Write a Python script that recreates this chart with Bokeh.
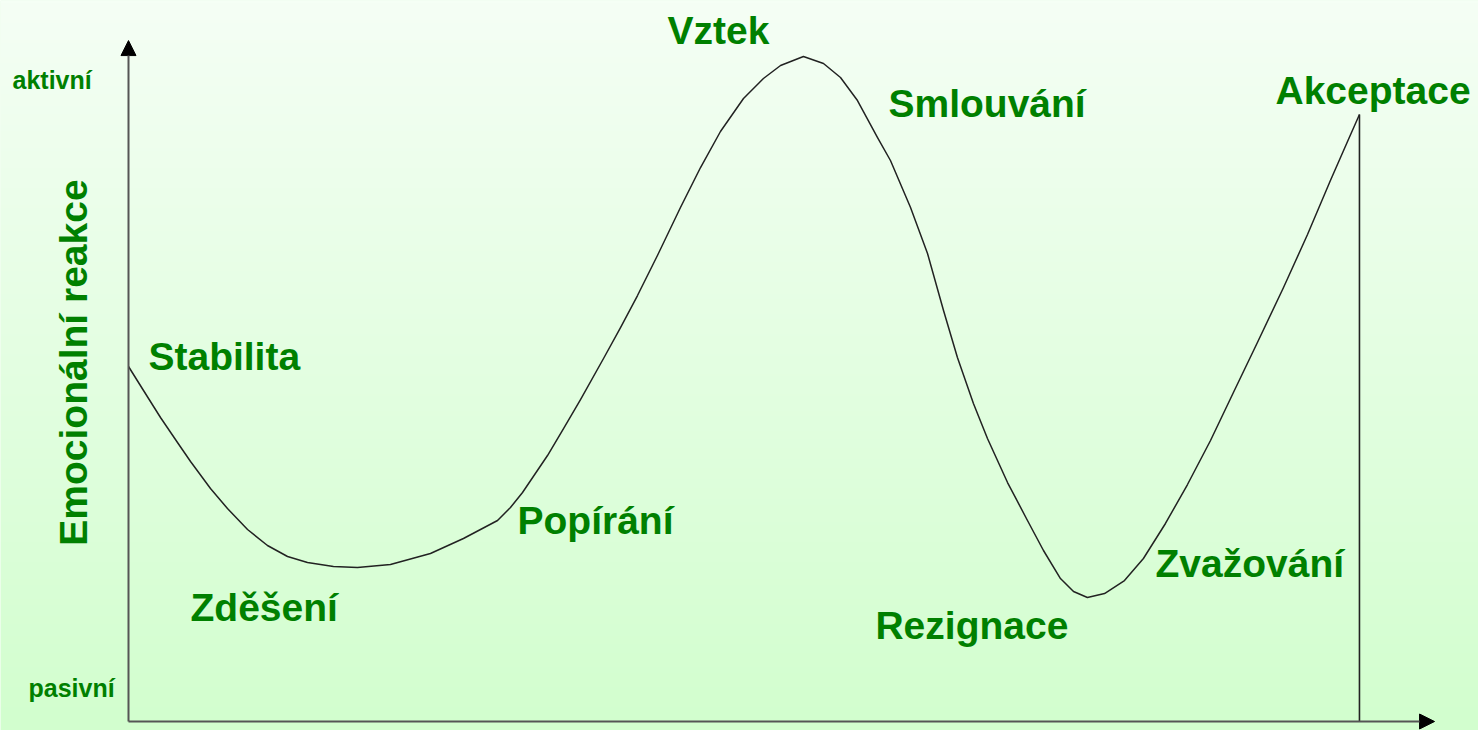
import numpy as np
from bokeh.plotting import figure
from bokeh.models import Range1d, Arrow, NormalHead, Label
from bokeh.embed import file_html
from bokeh.resources import INLINE

# ---- data (time 0..100, emotional reaction 0..100) ----
time = [0.00, 1.22, 2.60, 3.98, 5.04, 6.66, 8.04, 9.67, 11.29, 12.92, 14.54, 16.65,
        18.60, 21.28, 24.53, 27.21, 29.98, 31.03, 32.01, 34.04, 35.34, 36.72, 38.59,
        39.97, 41.35, 42.97, 44.84, 46.47, 48.09, 49.96, 51.58, 52.97, 54.83, 56.46,
        57.84, 59.22, 60.85, 61.90, 63.53, 64.91, 66.21, 67.34, 68.64, 69.78, 71.41,
        73.03, 74.33, 75.71, 76.77, 77.90, 79.29, 80.91, 82.45, 84.24, 86.03, 87.90,
        89.76, 91.71, 93.83, 95.78, 97.64, 99.03, 100.0]
emotion = [55.47, 51.72, 47.50, 43.59, 40.63, 36.41, 33.28, 30.00, 27.50, 25.78, 24.84,
           24.22, 24.06, 24.53, 26.25, 28.59, 31.41, 33.44, 35.78, 41.56, 45.78, 50.31,
           56.72, 61.56, 66.56, 72.81, 80.31, 86.56, 92.19, 97.34, 100.47, 102.50,
           103.91, 102.81, 100.63, 97.03, 91.25, 87.66, 80.31, 73.13, 64.22, 56.88,
           49.69, 44.22, 37.34, 31.41, 26.72, 22.34, 20.31, 19.38, 20.00, 22.03, 25.47,
           30.94, 37.03, 43.91, 51.41, 59.22, 67.81, 76.09, 84.53, 90.63, 94.84]

stages = ["Stabilita", "Zděšení", "Popírání", "Vztek", "Smlouvání",
          "Rezignace", "Zvažování", "Akceptace"]
y_title = "Emocionální reakce"
y_levels = ["aktivní", "pasivní"]

# ---- layout (not data) ----
stage_pos = [(1.62, 57.03), (5.04, 17.81), (31.60, 31.41), (43.79, 107.97),
             (61.74, 96.56), (60.68, 15.0), (83.43, 24.69), (93.18, 98.59)]
level_pos = [(-9.42, 100.16), (-8.12, 5.16)]

GREEN = "#008000"
FONT = "Liberation Sans"

W, H = 1478, 730
X0, X1 = -10.398, 109.67
Y0, Y1 = -1.406, 112.66
p = figure(width=W, height=H, output_backend="svg", toolbar_location=None,
           x_range=Range1d(X0, X1), y_range=Range1d(Y0, Y1),
           min_border=0, x_axis_type=None, y_axis_type=None)
p.outline_line_color = None
p.grid.visible = False
p.background_fill_color = "#e6fde4"
p.border_fill_color = "#e6fde4"

# vertical gradient background
n = 256
top = np.array([245, 255, 245])
bot = np.array([210, 254, 206])
t = np.linspace(0, 1, n)[:, None]
cols = (bot * (1 - t) + top * t).astype(np.uint32)  # row 0 = bottom
img = np.empty((n, 1), dtype=np.uint32)
view = img.view(dtype=np.uint8).reshape((n, 1, 4))
view[:, 0, 0] = cols[:, 0]
view[:, 0, 1] = cols[:, 1]
view[:, 0, 2] = cols[:, 2]
view[:, 0, 3] = 255
p.image_rgba(image=[img], x=X0, y=Y0, dw=X1 - X0, dh=Y1 - Y0)

# axes with arrows
p.add_layout(Arrow(end=NormalHead(size=15, fill_color="black", line_color="black"),
                   x_start=0, y_start=0, x_end=0, y_end=106.4,
                   line_color="#555555", line_width=2))
p.add_layout(Arrow(end=NormalHead(size=15, fill_color="black", line_color="black"),
                   x_start=0, y_start=0, x_end=106.1, y_end=0,
                   line_color="#555555", line_width=2))

# curve
p.line(time, emotion, line_color="#222222", line_width=1.5, line_join="round")
# vertical line at acceptance
p.segment(x0=[time[-1]], y0=[0], x1=[time[-1]], y1=[emotion[-1]],
          line_color="#222222", line_width=1.6)

for name, (x, y) in zip(stages, stage_pos):
    p.add_layout(Label(x=x, y=y, text=name, text_font=FONT, text_font_style="bold",
                       text_font_size="39px", text_color=GREEN,
                       text_align="left", text_baseline="middle"))

for name, (x, y) in zip(y_levels, level_pos):
    p.add_layout(Label(x=x, y=y, text=name, text_font=FONT, text_font_style="bold",
                       text_font_size="25px", text_color=GREEN,
                       text_align="left", text_baseline="middle"))

p.add_layout(Label(x=-4.47, y=56.09, text=y_title, text_font=FONT,
                   text_font_style="bold", text_font_size="39px", text_color=GREEN,
                   text_align="center", text_baseline="middle", angle=np.pi / 2))

open("out.html", "w").write(file_html(p, INLINE))
